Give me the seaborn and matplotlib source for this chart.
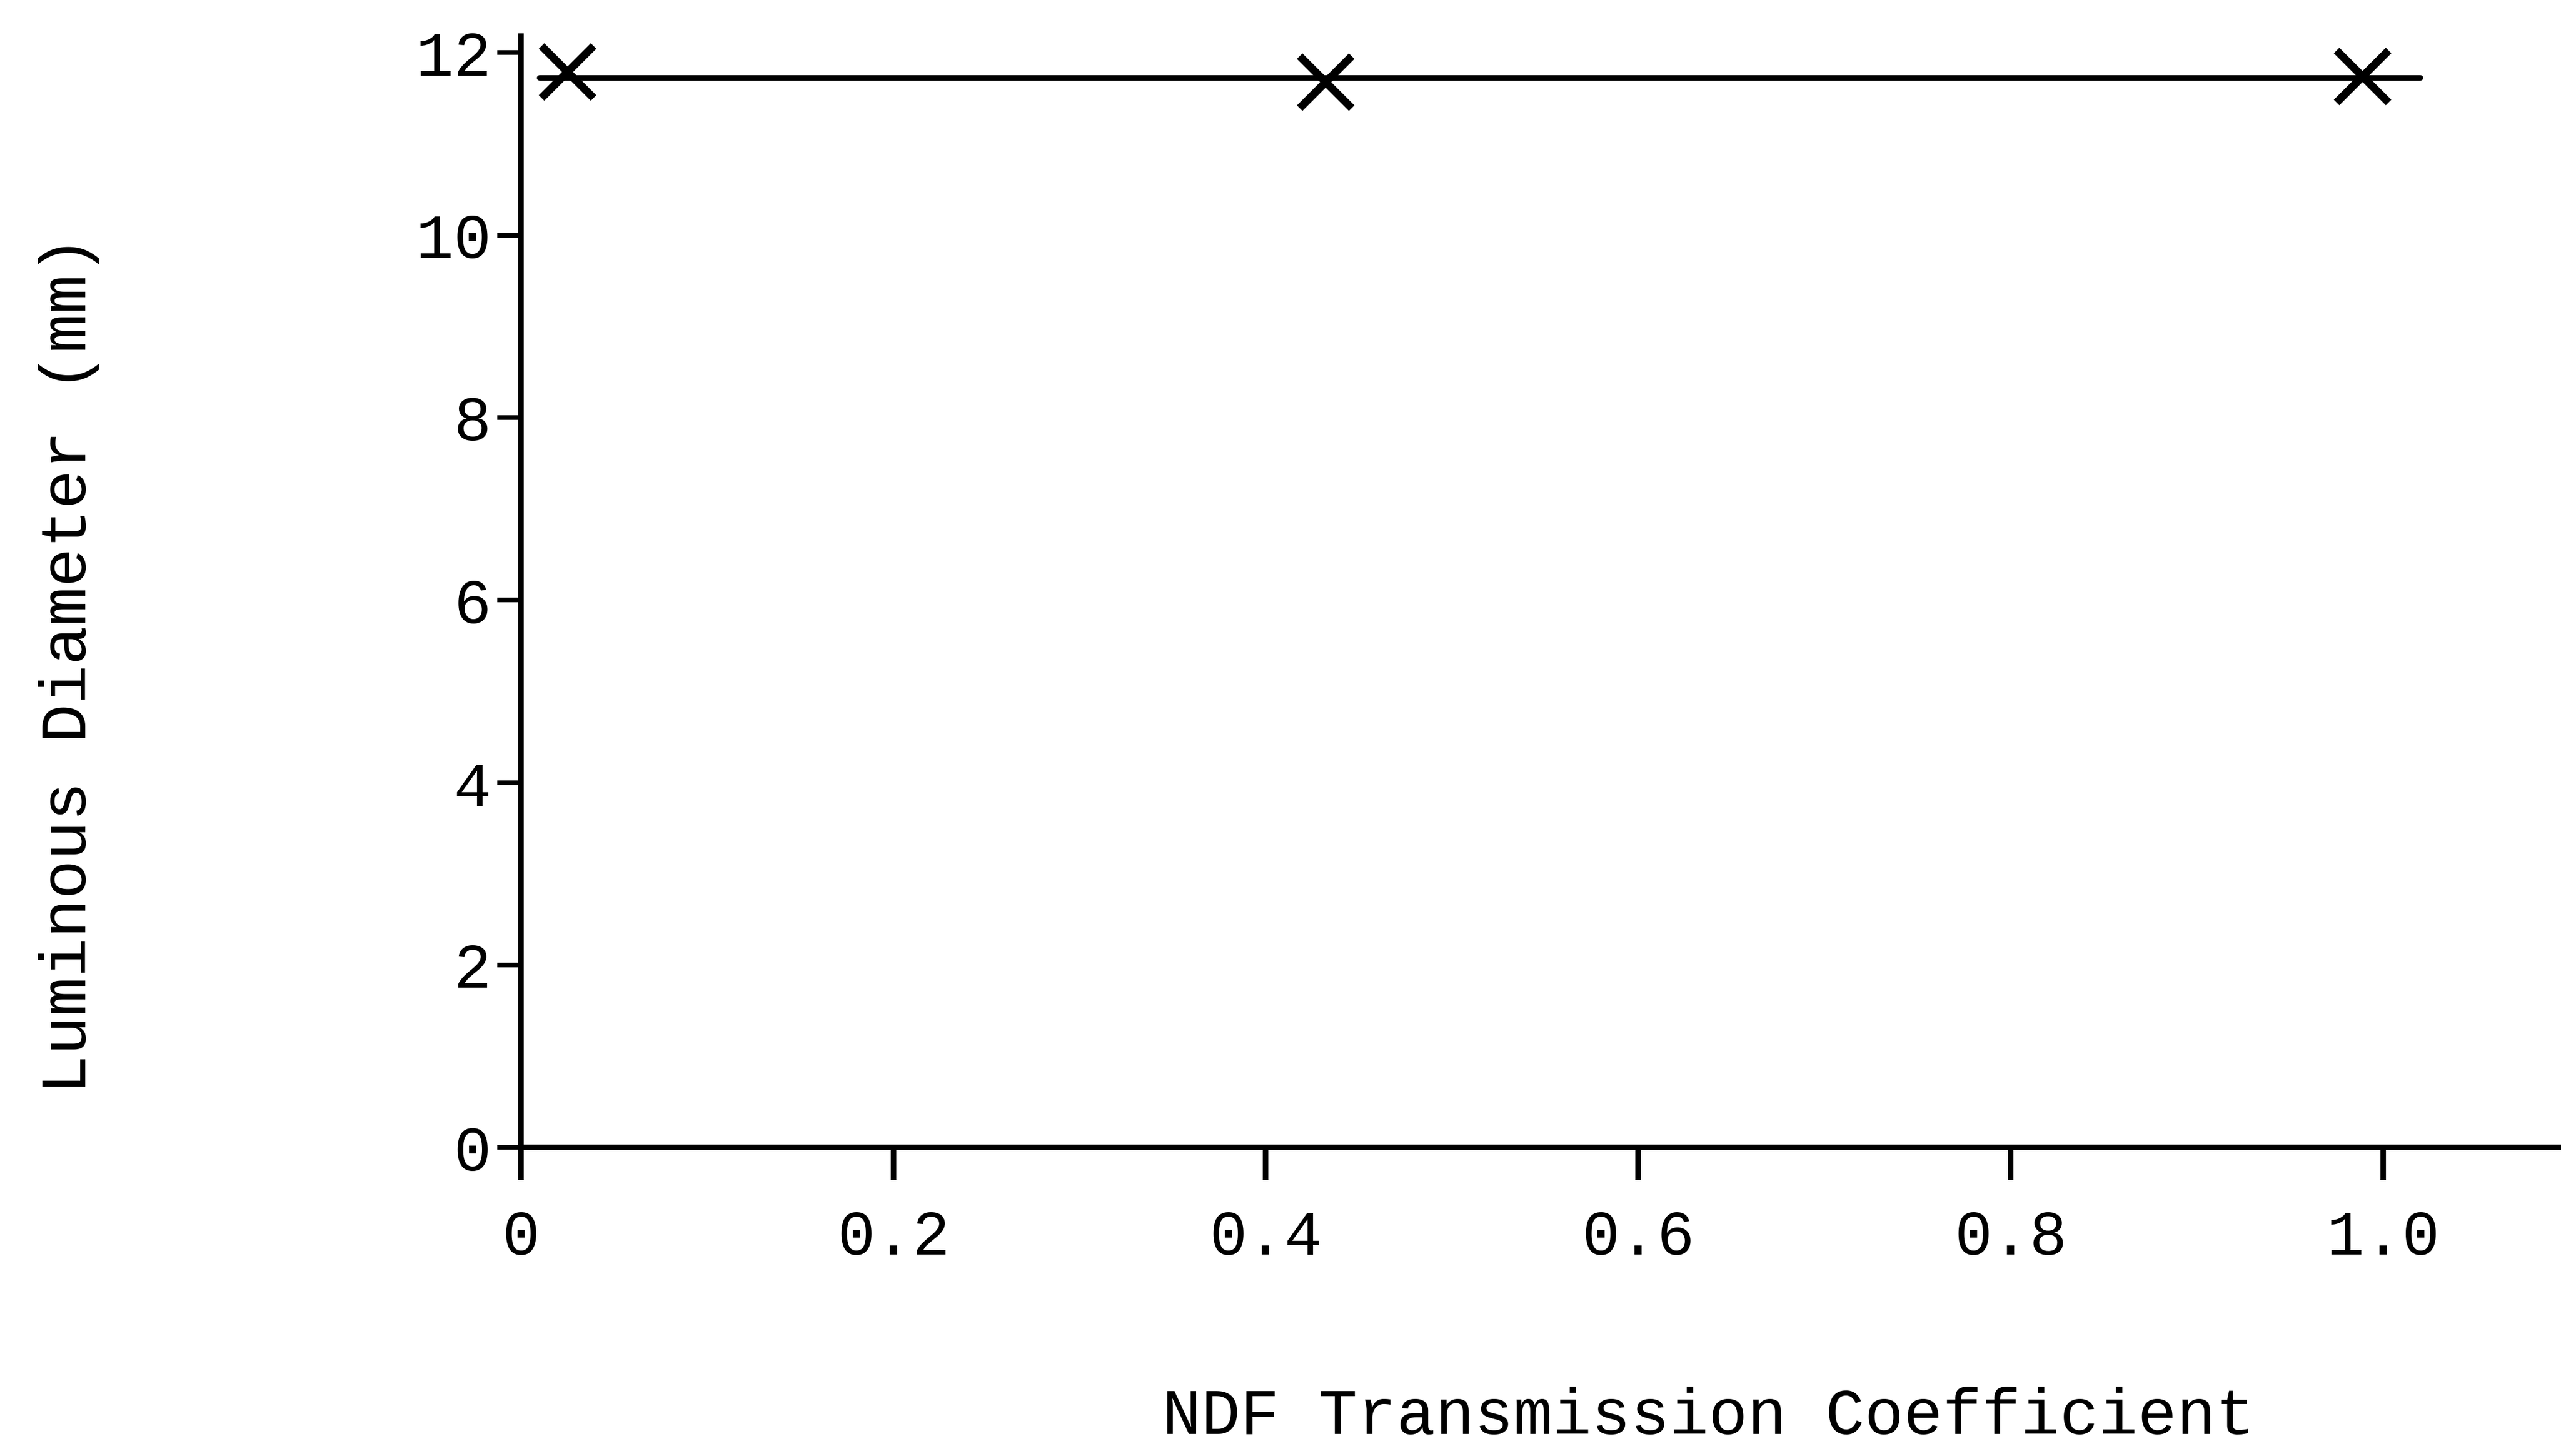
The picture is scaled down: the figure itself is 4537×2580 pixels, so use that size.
import matplotlib
matplotlib.use("Agg")
import matplotlib.pyplot as plt
import seaborn as sns
import pandas as pd

# data
ndf_coeff = [0.025, 0.432, 0.989]
lum_diam = [11.79, 11.68, 11.74]
fit_x = [0.01, 1.02]
fit_y = [11.72, 11.72]
xticks = [0, 0.2, 0.4, 0.6, 0.8, 1.0]
xticklabels = ["0", "0.2", "0.4", "0.6", "0.8", "1.0"]
yticks = [0, 2, 4, 6, 8, 10, 12]
yticklabels = ["0", "2", "4", "6", "8", "10", "12"]

sns.set_theme(style="white")
plt.rcParams["font.family"] = ["Liberation Mono", "DejaVu Sans Mono"]

W, H = 4537, 2580
fig = plt.figure(figsize=(W / 100, H / 100), dpi=100)
ax = fig.add_axes([319 / 1568, 1 - 703 / 892, 1 - 319 / 1568, (703 - 22) / 892])

pts = pd.DataFrame({"x": ndf_coeff, "y": lum_diam})
fit = pd.DataFrame({"x": fit_x, "y": fit_y})

sns.lineplot(data=fit, x="x", y="y", ax=ax, color="black", linewidth=7)
sns.scatterplot(data=pts, x="x", y="y", ax=ax, marker="x", s=4400,
                color="black", linewidth=10, zorder=5)

ax.set_xlim(0, (1568 - 319) / 1140)
ax.set_ylim(0, (703 - 22) / 55.9)
ax.set_xticks(xticks)
ax.set_xticklabels(xticklabels)
ax.set_yticks(yticks)
ax.set_yticklabels(yticklabels)

for s in ["top", "right"]:
    ax.spines[s].set_visible(False)
for s in ["left", "bottom"]:
    ax.spines[s].set_linewidth(7)
    ax.spines[s].set_color("black")

ax.tick_params(axis="x", direction="out", length=42, width=7, pad=36,
               labelsize=80, colors="black", bottom=True)
ax.tick_params(axis="y", direction="out", length=30, width=6, pad=8,
               labelsize=80, colors="black", left=True)

ax.set_xlabel("")
ax.set_ylabel("")
fig.text(1046 / 1568, 1 - 868 / 892, "NDF Transmission Coefficient",
         ha="center", va="center", fontsize=83, color="black")
fig.text(42 / 1568, 1 - 407 / 892, "Luminous Diameter (mm)",
         ha="center", va="center", rotation=90, fontsize=83, color="black")

fig.savefig("out.png", dpi=100, facecolor="white")
